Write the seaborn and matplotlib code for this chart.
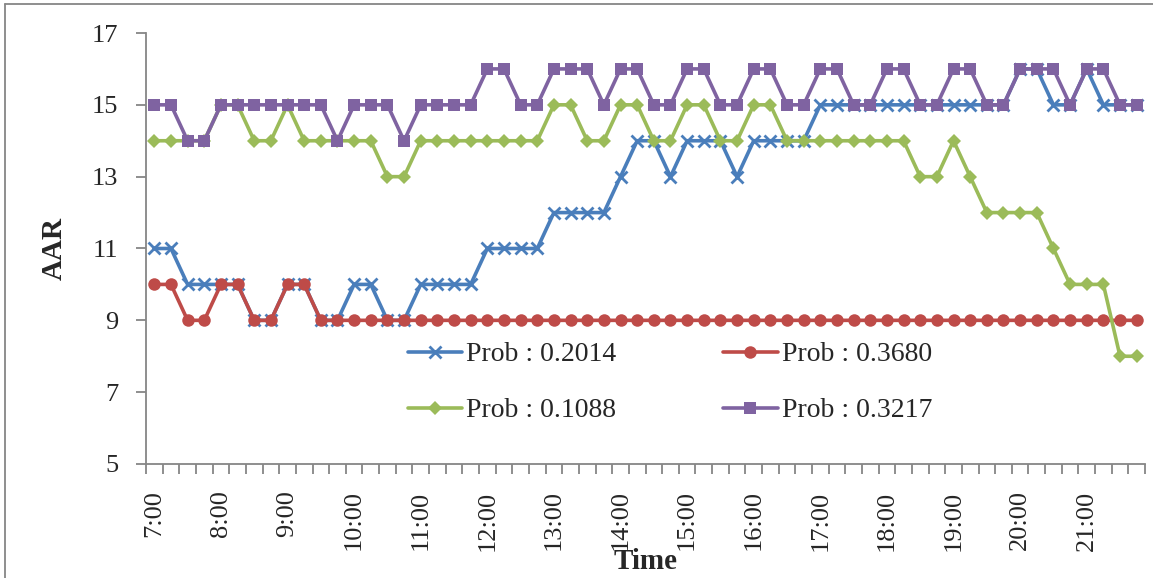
import numpy as np
import pandas as pd
import matplotlib
matplotlib.use("Agg")
import matplotlib.pyplot as plt
from matplotlib.lines import Line2D
import seaborn as sns

# 15-minute slots from 7:00 to 21:45
times = [f"{h}:{m:02d}" for h in range(7, 22) for m in (0, 15, 30, 45)]
hour_labels = [f"{h}:00" for h in range(7, 22)]

aar_p2014 = [11, 11, 10, 10, 10, 10, 9, 9, 10, 10, 9, 9, 10, 10, 9, 9, 10, 10, 10, 10,
             11, 11, 11, 11, 12, 12, 12, 12, 13, 14, 14, 13, 14, 14, 14, 13, 14, 14, 14, 14,
             15, 15, 15, 15, 15, 15, 15, 15, 15, 15, 15, 15, 16, 16, 15, 15, 16, 15, 15, 15]
aar_p3680 = [10, 10, 9, 9, 10, 10, 9, 9, 10, 10] + [9] * 50
aar_p1088 = [14, 14, 14, 14, 15, 15, 14, 14, 15, 14, 14, 14, 14, 14, 13, 13, 14, 14, 14, 14,
             14, 14, 14, 14, 15, 15, 14, 14, 15, 15, 14, 14, 15, 15, 14, 14, 15, 15, 14, 14,
             14, 14, 14, 14, 14, 14, 13, 13, 14, 13, 12, 12, 12, 12, 11, 10, 10, 10, 8, 8]
aar_p3217 = [15, 15, 14, 14, 15, 15, 15, 15, 15, 15, 15, 14, 15, 15, 15, 14, 15, 15, 15, 15,
             16, 16, 15, 15, 16, 16, 16, 15, 16, 16, 15, 15, 16, 16, 15, 15, 16, 16, 15, 15,
             16, 16, 15, 15, 16, 16, 15, 15, 16, 16, 15, 15, 16, 16, 16, 15, 16, 16, 15, 15]

series_names = ["Prob : 0.2014", "Prob : 0.3680", "Prob : 0.1088", "Prob : 0.3217"]
series_values = [aar_p2014, aar_p3680, aar_p1088, aar_p3217]

sns.set_theme(style="white")
plt.rcParams["font.family"] = ["Liberation Serif", "DejaVu Serif"]

slot = np.arange(len(times))
df = pd.DataFrame({"slot": np.tile(slot, 4),
                   "AAR": np.concatenate(series_values),
                   "series": np.repeat(series_names, len(times))})

colors = {"Prob : 0.2014": "#4A7EBB", "Prob : 0.3680": "#BE4B48",
          "Prob : 0.1088": "#9BBB59", "Prob : 0.3217": "#7F63A1"}
markers = {"Prob : 0.2014": dict(marker="x", markersize=8, markeredgewidth=2),
           "Prob : 0.3680": dict(marker="o", markersize=9, markeredgewidth=0),
           "Prob : 0.1088": dict(marker="D", markersize=7, markeredgewidth=0),
           "Prob : 0.3217": dict(marker="s", markersize=9, markeredgewidth=0)}

fig = plt.figure(figsize=(11.53, 5.78), dpi=100)
ax = fig.add_axes([146 / 1153, 1 - 464 / 578, (1145 - 146) / 1153, (464 - 33) / 578])

for name in series_names:
    sub = df[df["series"] == name]
    sns.lineplot(data=sub, x="slot", y="AAR", ax=ax, color=colors[name],
                 linewidth=2.6, label=name, markeredgecolor=colors[name],
                 markerfacecolor=colors[name], **markers[name])

ax.set_xlim(-0.5, len(times) - 0.5)
ax.set_ylim(5, 17)
ax.set_yticks(np.arange(5, 18, 2))
ax.set_xticks(slot[::4], hour_labels, rotation=90)
ax.set_xticks(np.arange(-0.5, len(times), 1.0), minor=True)

gray = "#868686"
for side in ("top", "right"):
    ax.spines[side].set_visible(False)
for side in ("left", "bottom"):
    ax.spines[side].set_color(gray)
    ax.spines[side].set_linewidth(1.3)

ax.tick_params(axis="y", which="major", length=7, width=1.3, color=gray,
               direction="out", pad=13, labelsize=19, left=True)
ax.tick_params(axis="x", which="major", length=0, pad=19, labelsize=19)
ax.tick_params(axis="x", which="minor", length=7, width=1.3, color=gray,
               direction="out", bottom=True)

ax.set_ylabel("AAR", fontsize=21, fontweight="bold")
ax.yaxis.set_label_coords(-0.078, 0.5)
ax.set_xlabel("Time", fontsize=21, fontweight="bold")
ax.xaxis.set_label_coords(0.5, -0.195)

handles, labels = ax.get_legend_handles_labels()
order = [0, 2, 1, 3]
ax.legend([handles[i] for i in order], [labels[i] for i in order], ncol=2,
          loc="upper left", bbox_to_anchor=(408 / 1153, 1 - 342 / 578),
          bbox_transform=fig.transFigure, frameon=False, fontsize=20,
          handlelength=1.95, handletextpad=0.15, columnspacing=3.85,
          labelspacing=1.1, borderpad=0, borderaxespad=0)

# thin outer frame along the top and left edges
fig.add_artist(Line2D([5 / 1153, 1], [1 - 4 / 578, 1 - 4 / 578],
                      transform=fig.transFigure, color=gray, linewidth=1.3))
fig.add_artist(Line2D([5 / 1153, 5 / 1153], [0, 1 - 4 / 578],
                      transform=fig.transFigure, color=gray, linewidth=1.3))

fig.savefig("out.png", dpi=100)
